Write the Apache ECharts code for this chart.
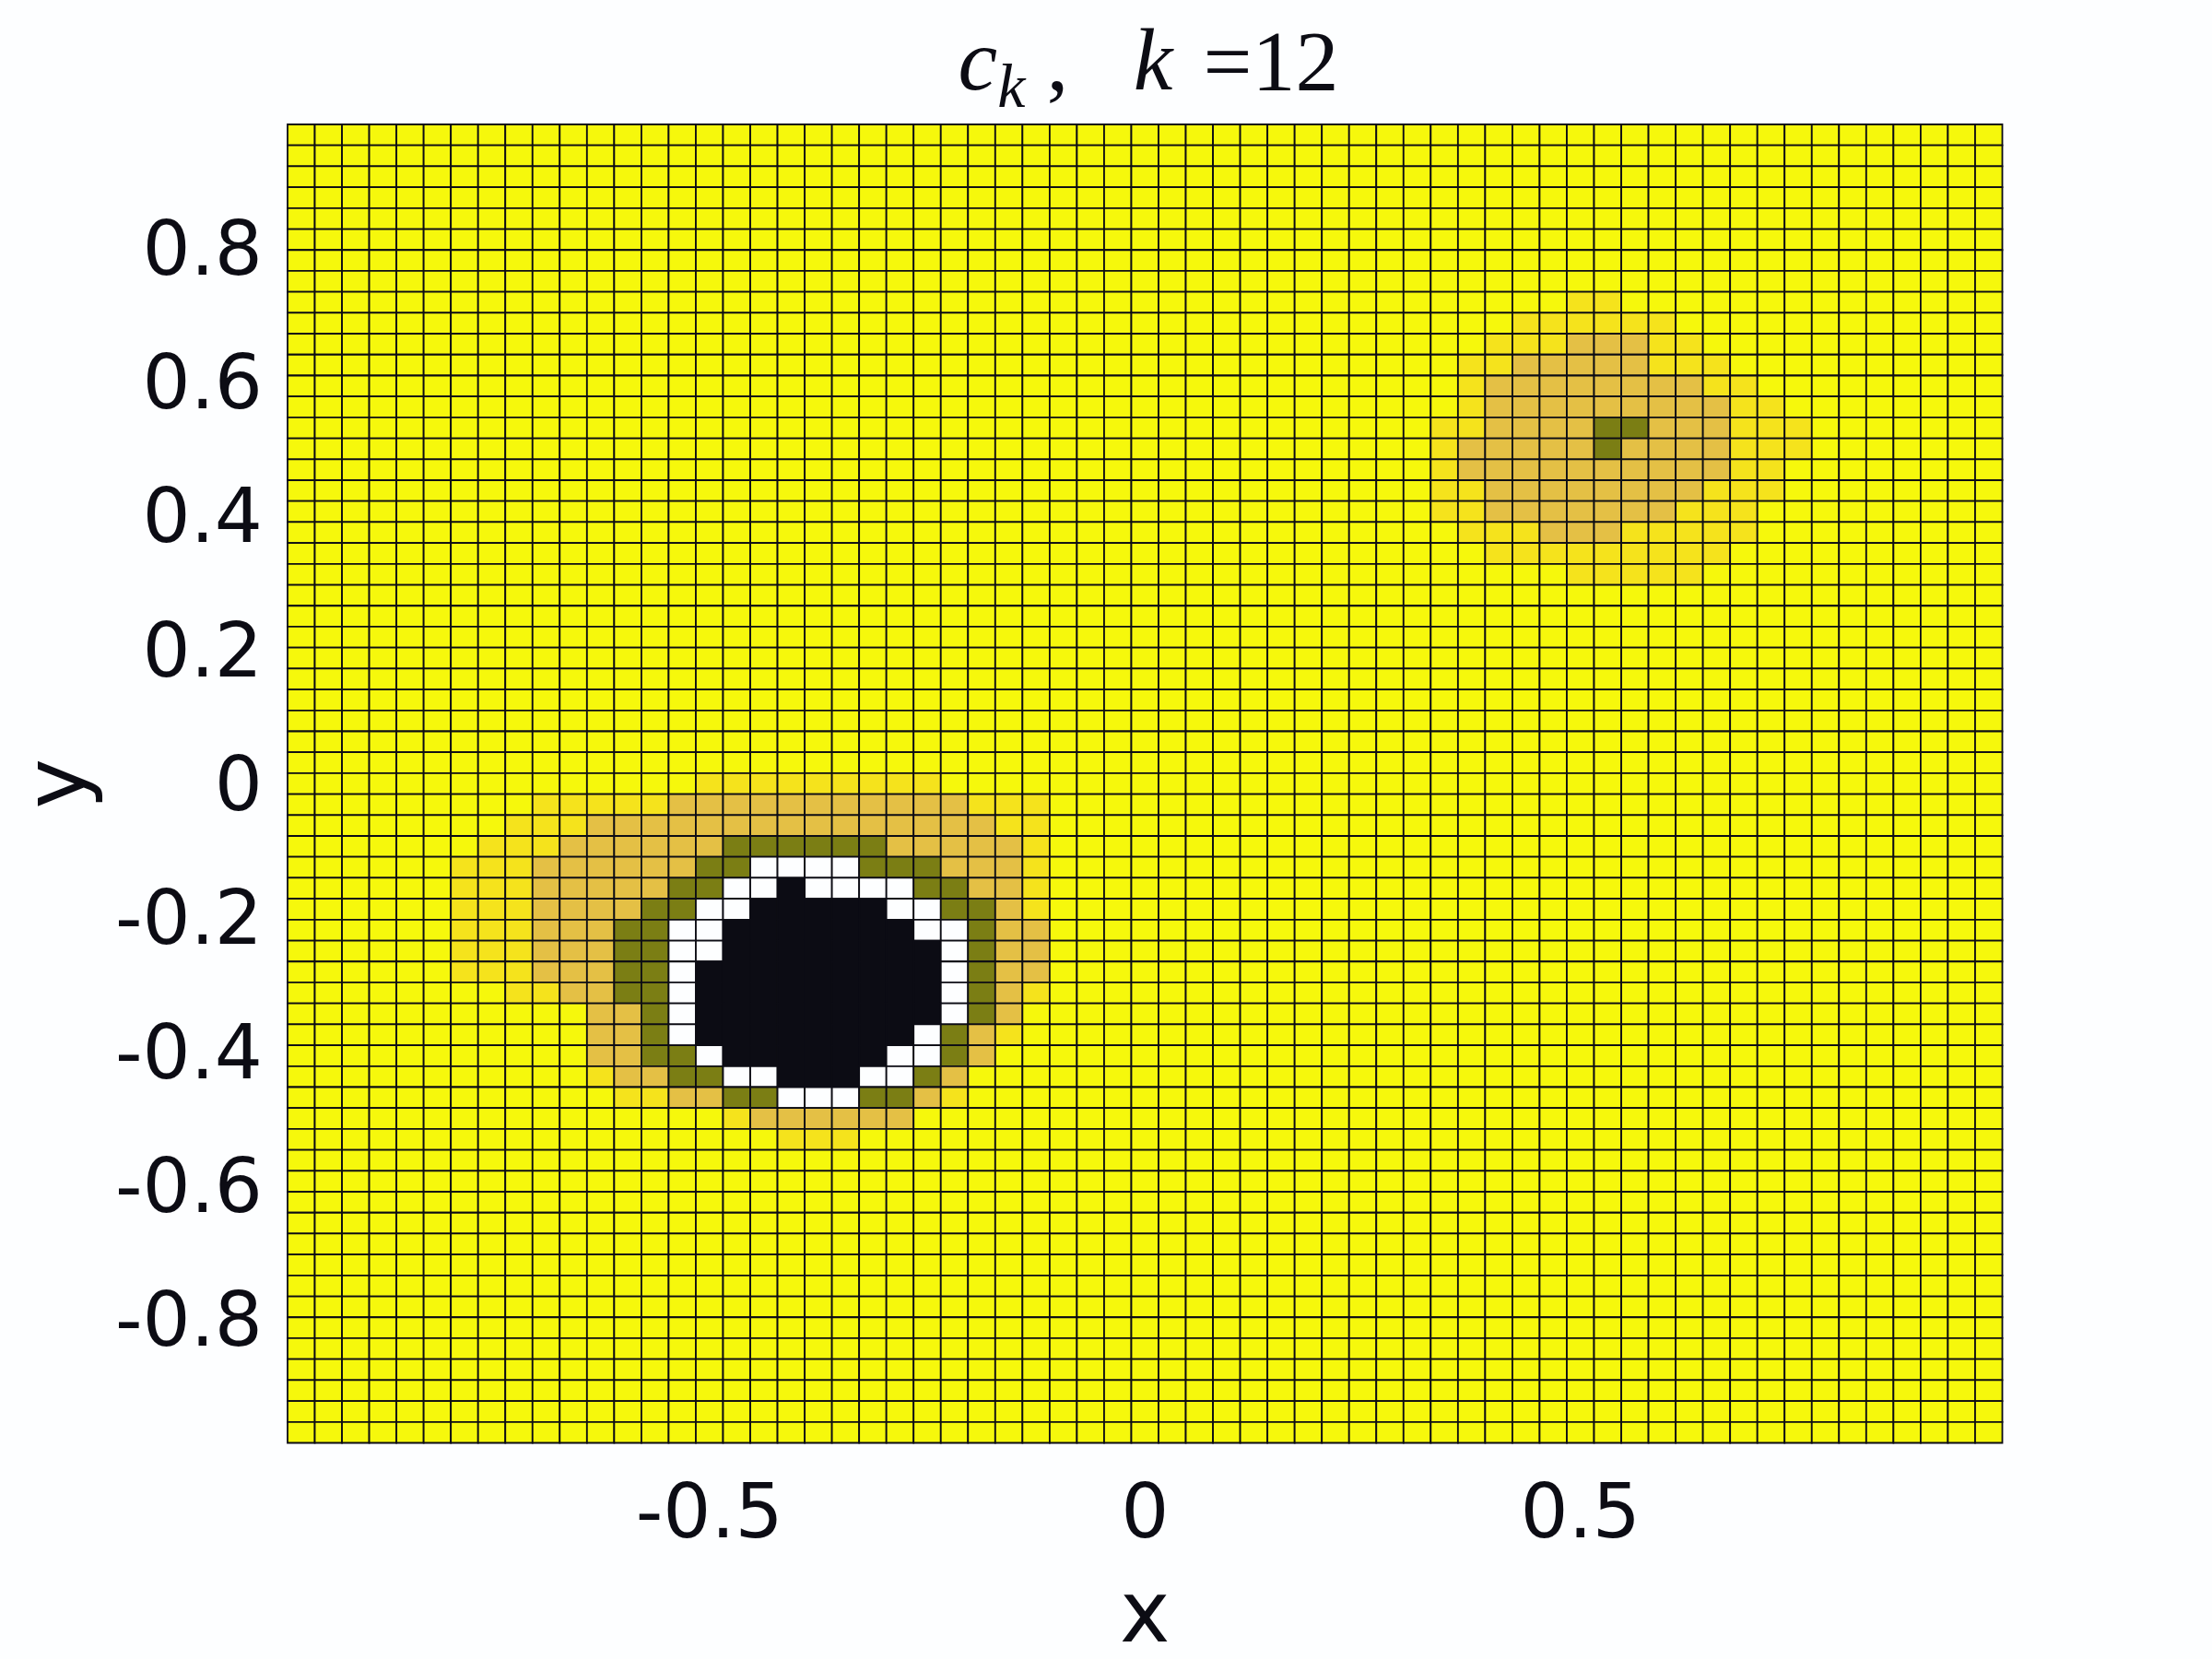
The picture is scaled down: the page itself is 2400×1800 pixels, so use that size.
<!DOCTYPE html>
<html>
<head>
<meta charset="utf-8">
<style>html,body{margin:0;padding:0;background:#fdfeff}#c{width:2400px;height:1800px}</style>
<script src="https://cdn.jsdelivr.net/npm/echarts@6/dist/echarts.min.js"></script>
</head>
<body>
<div id="c"></div>
<script>
const xTicks = [-0.5, 0, 0.5];
const yTicks = [-0.8, -0.6, -0.4, -0.2, 0, 0.2, 0.4, 0.6, 0.8];
const xLimits = [-0.984375, 0.984375];
const yLimits = [-0.984375, 0.984375];
const cellCount = 63;
const cellSize = 1 / 32;
const levelColors = ['#f6f80c', '#f5e31c', '#e4c045', '#7b7e14', '#fdfeff', '#0c0c14'];
const z41 = '00000000000000000000000000000000000000000';
// Levels row by row, top row first; each row lists columns from the left, the rest being level 0.
const levelRows = [
 '', '', '', '', '', '', '', '',
 z41 + '00000011',
 z41 + '0000111111',
 z41 + '00011122211',
 z41 + '0011222221' + '11',
 z41 + '00122222222' + '11',
 z41 + '00122222222' + '211',
 z41 + '0112222' + '33' + '222111',
 z41 + '0122222' + '3' + '2222111',
 z41 + '01' + '2222222222' + '11',
 z41 + '011' + '22222222' + '111',
 z41 + '011' + '2222222' + '111',
 z41 + '00111' + '222' + '11111',
 z41 + '000111111111',
 z41 + '00000011111',
 '', '', '', '', '', '', '', '', '',
 '000000000000000111111111',
 '000000000111112222222222' + '2111',
 '00000000111' + '222222222222222' + '11',
 '0000000111' + '222222' + '333333' + '22222' + '1',
 '000000111' + '222222' + '33' + '4444' + '333' + '222' + '1',
 '000000111' + '22222' + '33' + '44' + '5' + '4444' + '33' + '22' + '1',
 '000000111' + '2222' + '33' + '44' + '55555' + '44' + '33' + '2' + '1',
 '000000111' + '222' + '33' + '44' + '5555555' + '44' + '3' + '22',
 '000000111' + '222' + '33' + '44' + '55555555' + '4' + '3' + '22',
 '000000111' + '222' + '33' + '4' + '555555555' + '4' + '3' + '22',
 '00000000' + '11' + '22' + '33' + '4' + '555555555' + '4' + '3' + '2' + '1',
 '00000000000' + '22' + '3' + '4' + '555555555' + '4' + '3' + '2',
 '00000000000' + '22' + '3' + '4' + '55555555' + '4' + '3' + '2' + '1',
 '00000000000' + '22' + '33' + '4' + '555555' + '44' + '3' + '2',
 '00000000000' + '1' + '22' + '33' + '44' + '555' + '44' + '3' + '2',
 '000000000000' + '11' + '22' + '33' + '444' + '33' + '2' + '1',
 '0000000000000000' + '1' + '222222',
 '000000000000000000' + '111',
];

const cells = [];
for (let r = 0; r < cellCount; r++) {
  const row = (levelRows[r] || '').padEnd(cellCount, '0');
  for (let c = 0; c < cellCount; c++) {
    cells.push([xLimits[0] + (c + 0.5) * cellSize, yLimits[1] - (r + 0.5) * cellSize, +row[c]]);
  }
}

const ink = '#0c0c14';
const chart = echarts.init(document.getElementById('c'), null, {renderer: 'canvas', width: 2400, height: 1800});
chart.setOption({
  animation: false,
  backgroundColor: '#fdfeff',
  title: {
    text: '{m|c}{s|k}{t| ,   }{m|k}{g| }{t|=12}',
    left: 1241, top: 19, textAlign: 'center',
    textStyle: {
      fontWeight: 'normal',
      rich: {
        m: {fontFamily: 'Liberation Serif', fontStyle: 'italic', fontWeight: 'normal', fontSize: 96, color: ink, verticalAlign: 'bottom', padding: [0, 0, 12, 0]},
        s: {fontFamily: 'Liberation Serif', fontStyle: 'italic', fontWeight: 'normal', fontSize: 68, color: ink, verticalAlign: 'bottom'},
        g: {fontFamily: 'Liberation Serif', fontSize: 36, color: ink, verticalAlign: 'bottom', padding: [0, 0, 0, 24]},
        t: {fontFamily: 'Liberation Serif', fontWeight: 'normal', fontSize: 94, color: ink, verticalAlign: 'bottom', padding: [0, 0, 12, 0]}
      }
    }
  },
  grid: {left: 312, right: 227.5, top: 135, height: 1430.5, containLabel: false, outerBoundsMode: 'none'},
  xAxis: {
    type: 'value', min: xLimits[0], max: xLimits[1],
    name: 'x', nameLocation: 'middle', nameGap: 146,
    nameTextStyle: {fontFamily: 'DejaVu Sans', fontSize: 92, color: ink},
    axisLine: {show: false}, axisTick: {show: false}, splitLine: {show: false},
    axisLabel: {customValues: xTicks, formatter: v => String(v), margin: 40, color: ink, fontFamily: 'DejaVu Sans', fontSize: 82}
  },
  yAxis: {
    type: 'value', min: yLimits[0], max: yLimits[1],
    name: 'y', nameLocation: 'middle', nameGap: 197,
    nameTextStyle: {fontFamily: 'DejaVu Sans', fontSize: 92, color: ink},
    axisLine: {show: false}, axisTick: {show: false}, splitLine: {show: false},
    axisLabel: {
      customValues: yTicks, formatter: v => '{a|' + v + '}', margin: 27,
      rich: {a: {padding: [15, 0, 0, 0], color: ink, fontFamily: 'DejaVu Sans', fontSize: 82}}
    }
  },
  series: [{
    type: 'custom',
    coordinateSystem: 'cartesian2d',
    clip: false,
    data: cells,
    encode: {x: 0, y: 1},
    renderItem: (params, api) => {
      const x = api.value(0), y = api.value(1);
      const a = api.coord([x - cellSize / 2, y + cellSize / 2]);
      const b = api.coord([x + cellSize / 2, y - cellSize / 2]);
      return {
        type: 'rect',
        shape: {x: a[0], y: a[1], width: b[0] - a[0], height: b[1] - a[1]},
        style: {fill: levelColors[api.value(2)], stroke: ink, lineWidth: 1.8}
      };
    }
  }]
});
</script>
</body>
</html>
